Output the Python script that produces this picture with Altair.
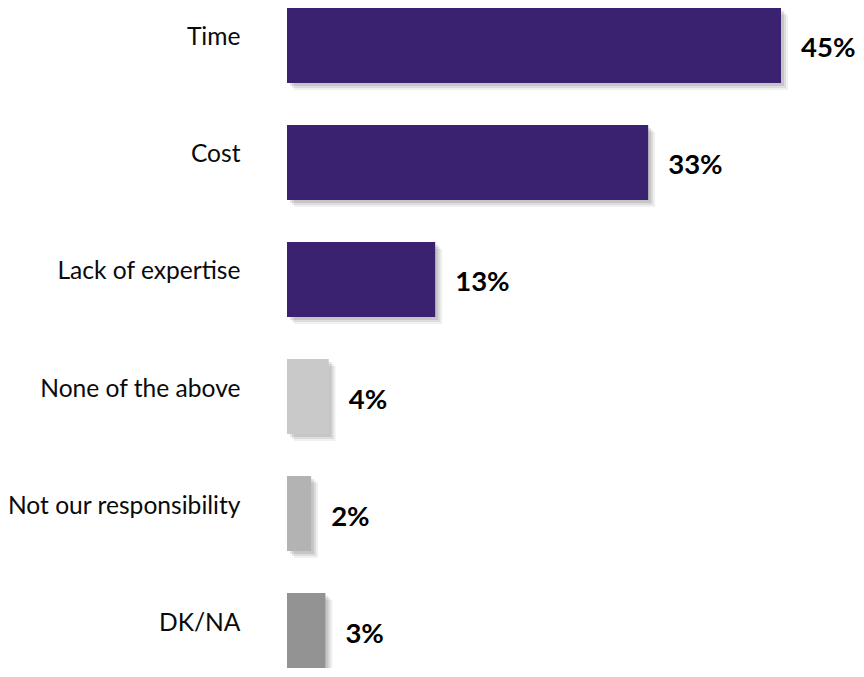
import altair as alt
import pandas as pd

categories = ["Time", "Cost", "Lack of expertise", "None of the above",
              "Not our responsibility", "DK/NA"]
values = [45, 32.9, 13.5, 3.8, 2.2, 3.5]
labels = ["45%", "33%", "13%", "4%", "2%", "3%"]
colors = ["#3b2270", "#3b2270", "#3b2270", "#c9c9c9", "#b3b3b3", "#939393"]

df = pd.DataFrame({"cat": categories, "val": values, "lab": labels})

y_enc = alt.Y("cat:N", sort=categories,
              scale=alt.Scale(paddingInner=0.359, paddingOuter=0),
              axis=alt.Axis(title=None, ticks=False, domain=False,
                            labelFont="Lato", labelFontSize=24.6,
                            labelColor="#0a0a0a", labelPadding=47,
                            labelOffset=-7, labelLimit=400))
x_enc = alt.X("val:Q", scale=alt.Scale(domain=[0, 51.83], nice=False),
              axis=None)

base = alt.Chart(df).encode(y=y_enc, x=x_enc)

shadows = [
    base.mark_bar(color="#000000", opacity=0.06, xOffset=7, yOffset=7),
    base.mark_bar(color="#000000", opacity=0.08, xOffset=5, yOffset=5),
    base.mark_bar(color="#000000", opacity=0.10, xOffset=3, yOffset=3),
]

bars = base.mark_bar().encode(
    color=alt.Color("cat:N", scale=alt.Scale(domain=categories, range=colors),
                    legend=None)
)

text = base.mark_text(align="left", baseline="middle", dx=20, dy=4,
                      font="Lato", fontWeight="bold", fontSize=27.5,
                      color="#000000").encode(text="lab:N")

chart = alt.layer(*shadows, bars, text).properties(
    width=569, height=660,
    autosize=alt.AutoSizeParams(type="none"),
    padding={"left": 279, "top": 0, "right": 0, "bottom": 0},
).configure_view(stroke=None)

chart.save("out.html", embed_options={"renderer": "svg", "actions": False})
